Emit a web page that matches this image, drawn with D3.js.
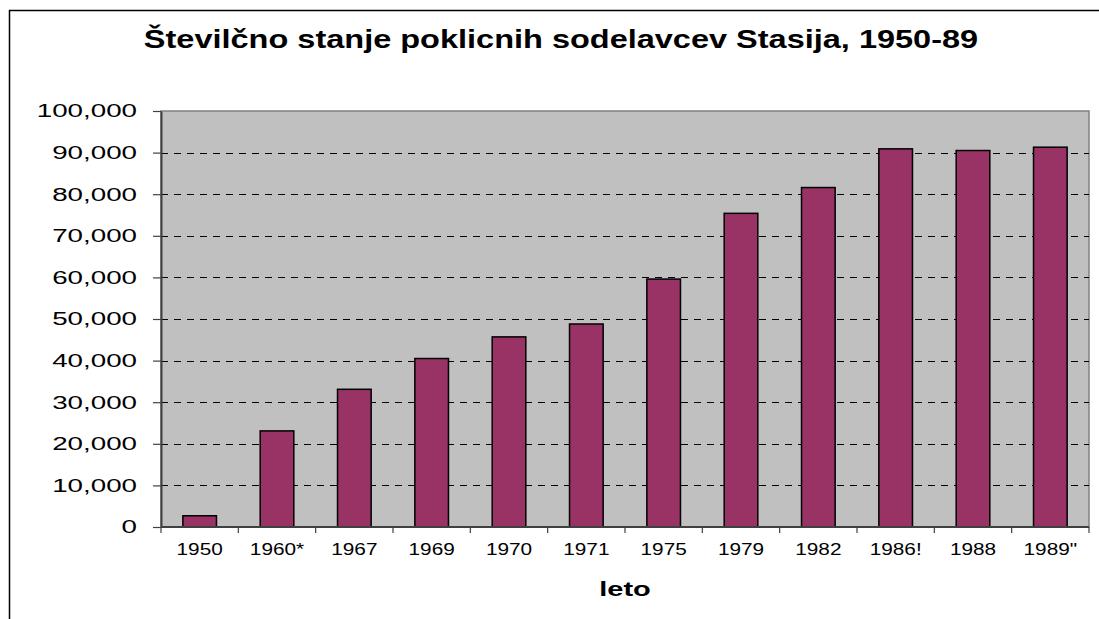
<!DOCTYPE html>
<html>
<head>
<meta charset="utf-8">
<script src="https://cdn.jsdelivr.net/npm/d3@7"></script>
<style>
  body { margin: 0; background: #fff; }
  text { font-family: "Liberation Sans", Arial, sans-serif; fill: #000; }
</style>
</head>
<body>
<div id="chart"></div>
<script>
const years = ["1950", "1960*", "1967", "1969", "1970", "1971", "1975", "1979", "1982", "1986!", "1988", "1989\""];
const staff = [2700, 23100, 33100, 40500, 45700, 48800, 59600, 75400, 81600, 90900, 90500, 91300];
const yTicks = [0, 10000, 20000, 30000, 40000, 50000, 60000, 70000, 80000, 90000, 100000];

const W = 1099, H = 619;
const plot = { left: 161, right: 1089, top: 111, bottom: 527 };

const svg = d3.select('#chart')
    .append('svg')
    .attr('width', W)
    .attr('height', H);

// outer frame (cut off on the right and bottom)
svg.append('path')
    .attr('d', `M9.5,${H} V10.5 H${W}`)
    .attr('fill', 'none')
    .attr('stroke', '#000')
    .attr('stroke-width', 1.5);

const x = d3.scaleBand()
    .domain(years)
    .range([plot.left, plot.right]);

const xBar = d3.scaleBand()
    .domain(years)
    .range([plot.left, plot.right])
    .paddingInner(1.3 / 2.3)
    .paddingOuter(0.65 / 2.3);

const y = d3.scaleLinear()
    .domain([0, 100000])
    .range([plot.bottom, plot.top]);

// plot background
svg.append('rect')
    .attr('x', plot.left)
    .attr('y', plot.top)
    .attr('width', plot.right - plot.left)
    .attr('height', plot.bottom - plot.top)
    .attr('fill', '#c0c0c0')
    .attr('stroke', '#808080')
    .attr('stroke-width', 1.5);

// dashed gridlines
svg.append('g')
    .selectAll('line')
    .data(yTicks.filter(v => v > 0 && v < 100000))
    .join('line')
    .attr('x1', plot.left)
    .attr('x2', plot.right)
    .attr('y1', d => Math.round(y(d)) + 0.5)
    .attr('y2', d => Math.round(y(d)) + 0.5)
    .attr('stroke', '#000')
    .attr('stroke-dasharray', '7,6');

// bars
svg.append('g')
    .selectAll('rect')
    .data(staff)
    .join('rect')
    .attr('x', (d, i) => xBar(years[i]))
    .attr('y', d => y(d))
    .attr('width', xBar.bandwidth())
    .attr('height', d => y(0) - y(d))
    .attr('fill', '#993366')
    .attr('stroke', '#000')
    .attr('stroke-width', 1.5);

// y axis
const yAxis = svg.append('g')
    .attr('transform', `translate(${plot.left},0)`)
    .call(d3.axisLeft(y).tickValues(yTicks).tickSize(8).tickSizeOuter(0).tickPadding(16)
        .tickFormat(d3.format(',')));
yAxis.select('.domain').attr('stroke', '#404040').attr('stroke-width', 2);
yAxis.selectAll('.tick line').attr('stroke', '#404040').attr('stroke-width', 1.2);
yAxis.selectAll('.tick text')
    .style('font-size', '18.5px')
    .attr('x', 0)
    .attr('transform', 'translate(-24,0) scale(1.5,1)');

// x axis
const xAxis = svg.append('g')
    .attr('transform', `translate(0,${plot.bottom})`);
xAxis.append('line')
    .attr('x1', plot.left).attr('x2', plot.right)
    .attr('stroke', '#404040').attr('stroke-width', 2);
xAxis.selectAll('line.tk')
    .data(years.map(d => x(d)).concat([plot.right]))
    .join('line')
    .attr('class', 'tk')
    .attr('x1', d => d).attr('x2', d => d)
    .attr('y1', 0).attr('y2', 6)
    .attr('stroke', '#404040').attr('stroke-width', 1.2);
xAxis.selectAll('text')
    .data(years)
    .join('text')
    .attr('transform', d => `translate(${x(d) + x.bandwidth() / 2},28) scale(1.3,1)`)
    .attr('text-anchor', 'middle')
    .style('font-size', '16px')
    .text(d => d);

// title
svg.append('text')
    .attr('transform', 'translate(561,48) scale(1.3,1)')
    .attr('text-anchor', 'middle')
    .style('font-size', '25px')
    .style('font-weight', 'bold')
    .text('Številčno stanje poklicnih sodelavcev Stasija, 1950-89');

// axis title
svg.append('text')
    .attr('transform', `translate(${(plot.left + plot.right) / 2},596) scale(1.45,1)`)
    .attr('text-anchor', 'middle')
    .style('font-size', '20px')
    .style('font-weight', 'bold')
    .text('leto');
</script>
</body>
</html>
